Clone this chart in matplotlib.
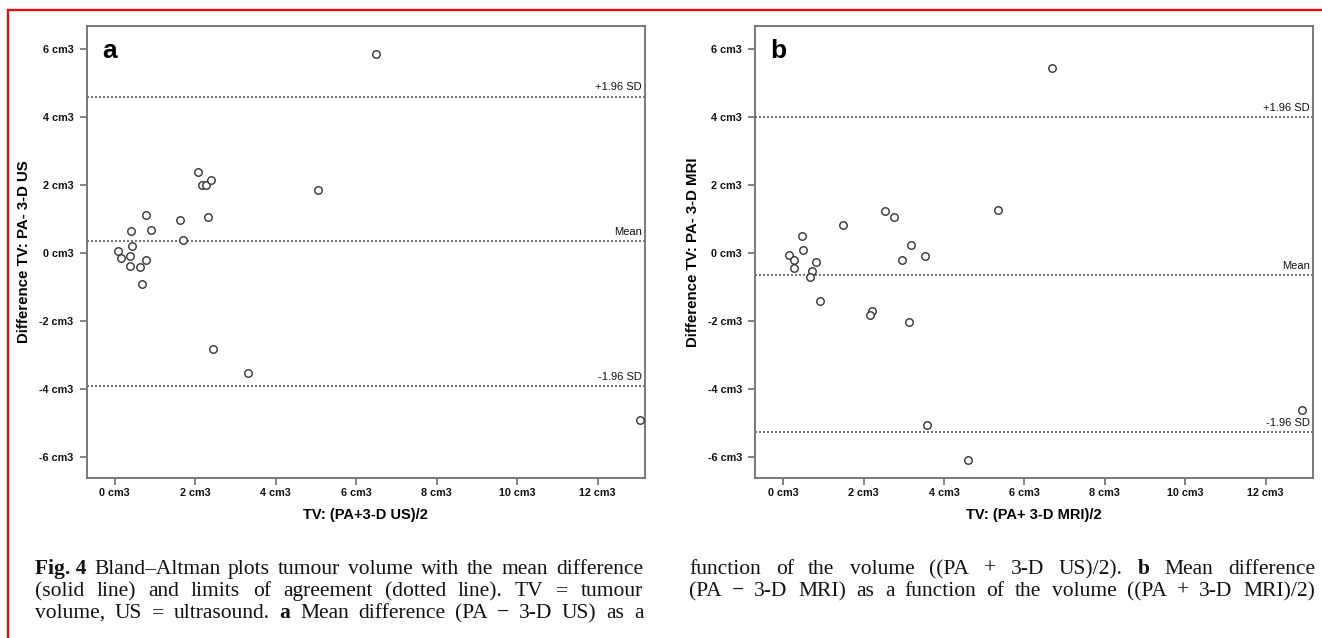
import matplotlib
matplotlib.use("Agg")
import matplotlib.pyplot as plt
from matplotlib.lines import Line2D

# ---------------- data ----------------
a_mean = [6.50, 5.05, 2.08, 2.16, 2.27, 2.40, 2.31, 1.62, 1.70, 0.77, 0.91, 0.40,
          0.43, 0.09, 0.16, 0.38, 0.37, 0.64, 0.79, 0.68, 2.45, 3.32, 13.05]
a_diff = [5.86, 1.87, 2.38, 1.99, 2.01, 2.15, 1.06, 0.96, 0.39, 1.13, 0.67, 0.65,
          0.22, 0.05, -0.15, -0.09, -0.38, -0.42, -0.20, -0.91, -2.84, -3.54, -4.91]
a_lines = [4.61, 0.35, -3.91]

b_mean = [6.69, 5.34, 2.53, 2.76, 1.48, 0.47, 0.49, 0.15, 0.27, 0.28, 0.82, 0.71,
          0.67, 0.92, 3.17, 2.95, 3.53, 2.20, 2.16, 3.13, 3.58, 4.61, 12.90]
b_diff = [5.46, 1.28, 1.24, 1.05, 0.84, 0.49, 0.10, -0.06, -0.20, -0.43, -0.26, -0.54,
          -0.70, -1.40, 0.24, -0.21, -0.10, -1.70, -1.84, -2.02, -5.08, -6.10, -4.64]
b_lines = [4.01, -0.64, -5.27]

line_labels = ["+1.96 SD", "Mean", "-1.96 SD"]
x_ticks = [0, 2, 4, 6, 8, 10, 12]
y_ticks = [-6, -4, -2, 0, 2, 4, 6]
x_ticklabels = ["0 cm3", "2 cm3", "4 cm3", "6 cm3", "8 cm3", "10 cm3", "12 cm3"]
y_ticklabels = ["-6 cm3", "-4 cm3", "-2 cm3", "0 cm3", "2 cm3", "4 cm3", "6 cm3"]

panels = [
    dict(letter="a", mean=a_mean, diff=a_diff, lines=a_lines,
         xlabel="TV: (PA+3-D US)/2", ylabel="Difference TV: PA- 3-D US"),
    dict(letter="b", mean=b_mean, diff=b_diff, lines=b_lines,
         xlabel="TV: (PA+ 3-D MRI)/2", ylabel="Difference TV: PA- 3-D MRI"),
]

caption_left = [
    [("Fig. 4", "bold"), ("Bland–Altman", "normal"), ("plots", "normal"), ("tumour", "normal"),
     ("volume", "normal"), ("with", "normal"), ("the", "normal"), ("mean", "normal"),
     ("difference", "normal")],
    [("(solid", "normal"), ("line)", "normal"), ("and", "normal"), ("limits", "normal"),
     ("of", "normal"), ("agreement", "normal"), ("(dotted", "normal"), ("line).", "normal"),
     ("TV", "normal"), ("=", "normal"), ("tumour", "normal")],
    [("volume,", "normal"), ("US", "normal"), ("=", "normal"), ("ultrasound.", "normal"),
     ("a", "bold"), ("Mean", "normal"), ("difference", "normal"), ("(PA", "normal"),
     ("−", "normal"), ("3-D", "normal"), ("US)", "normal"), ("as", "normal"), ("a", "normal")],
]
caption_right = [
    [("function", "normal"), ("of", "normal"), ("the", "normal"), ("volume", "normal"),
     ("((PA", "normal"), ("+", "normal"), ("3-D", "normal"), ("US)/2).", "normal"),
     ("b", "bold"), ("Mean", "normal"), ("difference", "normal")],
    [("(PA", "normal"), ("−", "normal"), ("3-D", "normal"), ("MRI)", "normal"),
     ("as", "normal"), ("a", "normal"), ("function", "normal"), ("of", "normal"),
     ("the", "normal"), ("volume", "normal"), ("((PA", "normal"), ("+", "normal"),
     ("3-D", "normal"), ("MRI)/2)", "normal")],
]

# ---------------- layout ----------------
W, H = 1322, 638
fig = plt.figure(figsize=(W / 100, H / 100), dpi=100)
fig.patch.set_facecolor("white")

narrow = ["Liberation Sans Narrow", "Liberation Sans", "DejaVu Sans"]
sans = ["Liberation Sans", "DejaVu Sans"]
serif = ["Liberation Serif", "DejaVu Serif"]

frame_col = "#6e6e6e"
axes_px = [(86.5, 645), (755, 1313)]
top_px, bot_px = 26, 478

for (l, r), p in zip(axes_px, panels):
    ax = fig.add_axes([l / W, (H - bot_px) / H, (r - l) / W, (bot_px - top_px) / H])
    ax.set_xlim(-0.70, 13.18)
    ax.set_ylim(-6.63, 6.69)
    for s in ax.spines.values():
        s.set_color(frame_col)
        s.set_linewidth(1.3)
    for yv, lab in zip(p["lines"], line_labels):
        ax.axhline(yv, color="#5a5a5a", lw=1.2, ls=(0, (1.2, 1.2)), zorder=1)
        ax.annotate(lab, xy=(1, yv), xycoords=("axes fraction", "data"),
                    xytext=(-2.5, 3), textcoords="offset points",
                    ha="right", va="bottom", fontsize=8, family=narrow, color="#111111")
    ax.plot(p["mean"], p["diff"], ls="none", marker="o", ms=5.4, mfc="white",
            mec="#333333", mew=1.0, zorder=3)
    ax.set_xticks(x_ticks)
    ax.set_xticklabels(x_ticklabels, family=narrow, fontsize=7.8, fontweight="bold")
    ax.set_yticks(y_ticks)
    ax.set_yticklabels(y_ticklabels, family=narrow, fontsize=7.8, fontweight="bold")
    ax.tick_params(axis="x", direction="out", length=5, width=1.2, color=frame_col,
                   pad=2, labelcolor="#111111", top=False)
    ax.tick_params(axis="y", direction="out", length=5, width=1.2, color=frame_col,
                   pad=4.5, labelcolor="#111111", right=False)
    ax.set_xlabel(p["xlabel"], family=sans, fontsize=10.5, fontweight="bold")
    ax.xaxis.set_label_coords(0.5, -(508 - bot_px) / (bot_px - top_px))
    ax.set_ylabel(p["ylabel"], family=sans, fontsize=10.8, fontweight="bold")
    ax.yaxis.set_label_coords(-55 / (r - l), 0.5)
    ax.text(0.028, 0.929, p["letter"], transform=ax.transAxes, fontsize=19,
            fontweight="bold", family=sans, ha="left", va="baseline")

# red border (top and left)
fig.add_artist(Line2D([8 / W, 1.0], [(H - 10) / H, (H - 10) / H], color="#ff0000", lw=1.6,
                      transform=fig.transFigure))
fig.add_artist(Line2D([8 / W, 8 / W], [0, (H - 10) / H], color="#ff0000", lw=1.6,
                      transform=fig.transFigure))

# ---------------- justified caption ----------------
renderer = fig.canvas.get_renderer()


def justified_line(tokens, x0, x1, y_base, size=15.5):
    texts = []
    widths = []
    for word, wt in tokens:
        t = fig.text(0, (H - y_base) / H, word, fontsize=size, family=serif,
                     fontweight=wt, ha="left", va="baseline", color="#111111")
        texts.append(t)
        widths.append(t.get_window_extent(renderer).width)
    gap = (x1 - x0 - sum(widths)) / max(len(tokens) - 1, 1)
    x = x0
    for t, w in zip(texts, widths):
        t.set_x(round(x) / W)
        x += w + gap


baselines = [574, 596, 618]
for tokens, yb in zip(caption_left, baselines):
    justified_line(tokens, 35, 643, yb)
for tokens, yb in zip(caption_right, baselines):
    justified_line(tokens, 689, 1315, yb)

fig.savefig("out.png", dpi=100, facecolor="white")
